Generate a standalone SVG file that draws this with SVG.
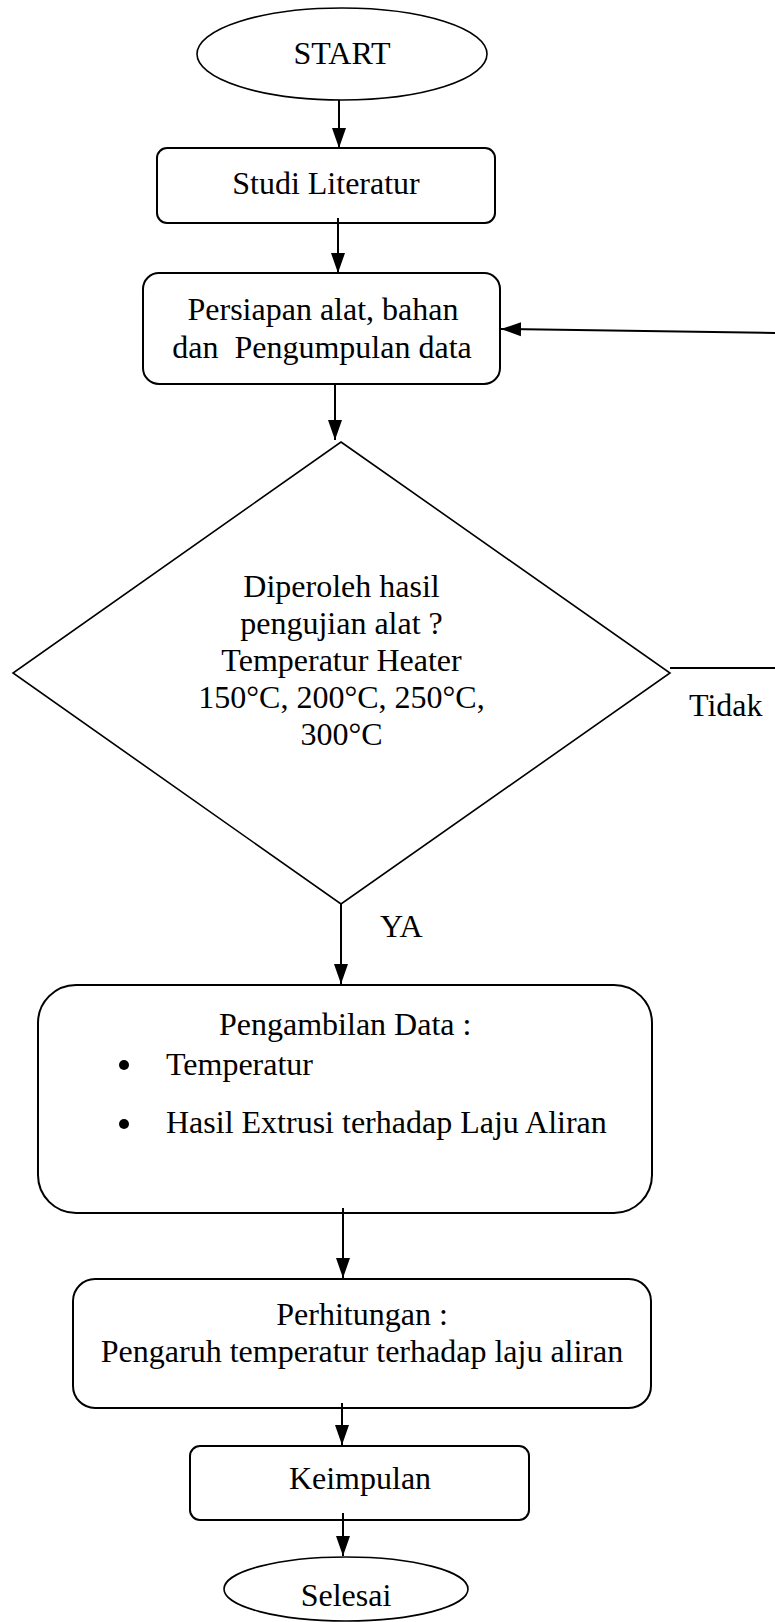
<svg xmlns="http://www.w3.org/2000/svg" width="775" height="1622" viewBox="0 0 775 1622">
<style>
.s{fill:#fff;stroke:#000;stroke-width:2}
.d{fill:#fff;stroke:#000;stroke-width:1.6}
.t{font-family:"Liberation Serif","Times New Roman",serif;font-size:32px;fill:#000;text-anchor:middle}
.l{font-family:"Liberation Serif","Times New Roman",serif;font-size:32px;fill:#000}
.c{stroke:#000;stroke-width:2;fill:none}
</style>
<defs>
<marker id="ah" markerUnits="userSpaceOnUse" markerWidth="20" markerHeight="16" refX="20" refY="8" orient="auto">
<path d="M0,1 L20,8 L0,15 z" fill="#000"/>
</marker>
</defs>
<g id="start">
<ellipse class="d" cx="342" cy="54" rx="145" ry="46"/>
<text class="t" x="342" y="64">START</text>
</g>
<g id="studi">
<rect class="s" x="157" y="148" width="338" height="75" rx="10"/>
<text class="t" x="326" y="194">Studi Literatur</text>
</g>
<g id="persiapan">
<rect class="s" x="143" y="273" width="357" height="111" rx="16"/>
<text class="t" x="323" y="320">Persiapan alat, bahan</text>
<text class="t" x="322" y="358" xml:space="preserve">dan  Pengumpulan data</text>
</g>
<g id="keputusan">
<polygon class="d" points="341,442 670,673 341,904 13,673"/>
<text class="t" x="341.5" y="597">Diperoleh hasil</text>
<text class="t" x="341.5" y="634">pengujian alat ?</text>
<text class="t" x="341.5" y="671">Temperatur Heater</text>
<text class="t" x="341.5" y="708">150°C, 200°C, 250°C,</text>
<text class="t" x="341.5" y="745">300°C</text>
</g>
<g id="label-tidak">
<text class="l" x="689" y="716">Tidak</text>
</g>
<g id="label-ya">
<text class="l" x="380" y="937">YA</text>
</g>
<g id="pengambilan">
<rect class="s" x="38" y="985" width="614" height="228" rx="38"/>
<text class="l" x="219" y="1035">Pengambilan Data :</text>
<circle cx="124" cy="1065" r="5"/>
<text class="l" x="166" y="1075">Temperatur</text>
<circle cx="124" cy="1124" r="5"/>
<text class="l" x="166" y="1133">Hasil Extrusi terhadap Laju Aliran</text>
</g>
<g id="perhitungan">
<rect class="s" x="73" y="1279" width="578" height="129" rx="22"/>
<text class="t" x="362" y="1325">Perhitungan :</text>
<text class="t" x="362" y="1362">Pengaruh temperatur terhadap laju aliran</text>
</g>
<g id="kesimpulan">
<rect class="s" x="190" y="1446" width="339" height="74" rx="10"/>
<text class="t" x="360" y="1489">Keimpulan</text>
</g>
<g id="selesai">
<ellipse class="d" cx="346" cy="1589" rx="122" ry="32"/>
<text class="t" x="346" y="1606">Selesai</text>
</g>
<g id="connectors">
<line class="c" x1="339" y1="100" x2="339" y2="148" marker-end="url(#ah)"/>
<line class="c" x1="338" y1="218" x2="338" y2="273" marker-end="url(#ah)"/>
<line class="c" x1="335" y1="384" x2="335" y2="440" marker-end="url(#ah)"/>
<line class="c" x1="341" y1="904" x2="341" y2="984" marker-end="url(#ah)"/>
<line class="c" x1="343" y1="1208" x2="343" y2="1278" marker-end="url(#ah)"/>
<line class="c" x1="342" y1="1403" x2="342" y2="1445" marker-end="url(#ah)"/>
<line class="c" x1="343" y1="1513" x2="343" y2="1556" marker-end="url(#ah)"/>
<line class="c" x1="670" y1="668" x2="775" y2="668"/>
<line class="c" x1="775" y1="333" x2="501" y2="329" marker-end="url(#ah)"/>
</g>
</svg>
